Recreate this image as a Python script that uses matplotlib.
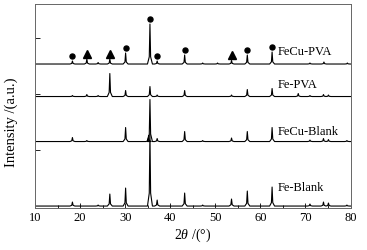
import matplotlib
matplotlib.use('Agg')
import matplotlib.pyplot as plt
import numpy as np

plt.rcParams['font.family'] = ['Liberation Serif', 'DejaVu Serif']
plt.rcParams['mathtext.fontset'] = 'custom'
plt.rcParams['mathtext.rm'] = 'Liberation Serif'
plt.rcParams['mathtext.it'] = 'Liberation Serif:italic'

# peak positions (2theta) and heights (arb. units)
names = ['Fe-Blank', 'FeCu-Blank', 'Fe-PVA', 'FeCu-PVA']

fe_blank_pos = [18.3, 24.0, 26.6, 30.1, 35.5, 37.1, 43.2, 47.2, 53.6, 57.1, 62.6, 71.0, 74.0, 75.1, 79.2]
fe_blank_h = [4, 1, 12, 18, 72, 6, 13, 1, 7, 15, 19, 2, 4, 3, 1]

fecu_blank_pos = [18.3, 21.5, 30.1, 35.2, 35.5, 37.1, 43.2, 47.2, 53.6, 57.1, 62.6, 71.0, 74.0, 75.1, 79.2]
fecu_blank_h = [4, 1, 14, 6, 42, 3, 10, 1, 3.5, 10, 14, 1.5, 3, 2, 1]

fe_pva_pos = [18.3, 21.5, 24.0, 26.6, 30.1, 35.5, 37.1, 43.2, 53.6, 57.1, 62.6, 68.4, 71.0, 74.0, 75.1]
fe_pva_h = [1, 2, 1, 23, 6, 10, 1.5, 6, 1.5, 7, 8, 3, 1, 2, 1.5]

fecu_pva_pos = [18.3, 21.5, 24.0, 26.6, 30.1, 35.5, 37.1, 43.2, 47.2, 50.5, 53.6, 57.1, 62.6, 71.0, 74.1, 79.3]
fecu_pva_h = [3, 5, 1.5, 5, 11, 40, 3, 9, 1, 1, 3.5, 9, 12, 1, 2, 1]

# phase markers on the FeCu-PVA pattern
circle_pos = [18.3, 30.1, 35.5, 37.1, 43.2, 57.1, 62.6]
triangle_pos = [21.5, 26.6, 53.6]

positions = [fe_blank_pos, fecu_blank_pos, fe_pva_pos, fecu_pva_pos]
heights = [fe_blank_h, fecu_blank_h, fe_pva_h, fecu_pva_h]
offsets = [1.7, 66.2, 111.2, 143.7]
label_y = [19.4, 76.0, 122.7, 156.0]


def pattern(pos, h, base):
    # sharp peak with a small broadened foot
    xs = [10]
    ys = [base]
    for p, v in zip(pos, h):
        xs += [p - 0.55, p - 0.15, p, p + 0.15, p + 0.55]
        ys += [base, base + 0.18 * v, base + v, base + 0.18 * v, base]
    xs.append(80)
    ys.append(base)
    return xs, ys


fig = plt.figure(figsize=(3.67, 2.5), dpi=100)
ax = fig.add_axes([0.0954, 0.169, 0.8597, 0.815])

for name, pos, h, off, ly in zip(names, positions, heights, offsets, label_y):
    xs, ys = pattern(pos, h, off)
    ax.plot(xs, ys, color='black', lw=0.8)
    ax.text(63.9, ly, name, fontsize=9, va='center', ha='left')

top = dict(zip(fecu_pva_pos, fecu_pva_h))
ax.plot(circle_pos, [offsets[3] + top[p] + 5 for p in circle_pos], 'o',
        color='black', ms=3.6, clip_on=False)
ax.plot(triangle_pos, [offsets[3] + top[p] + 5.5 for p in triangle_pos], '^',
        color='black', ms=6, clip_on=False)

ax.set_xlim(10, 80)
ax.set_ylim(0, 203.7)
ax.set_xticks(np.arange(10, 81, 10))
ax.set_xticks(np.arange(15, 80, 10), minor=True)
ax.set_yticks([57.7, 113.7, 169.7])
ax.set_yticklabels([])
ax.tick_params(axis='both', which='major', direction='in', length=3.5, width=0.6, labelsize=9, pad=3)
ax.tick_params(axis='x', which='minor', direction='in', length=2, width=0.6)
for s in ax.spines.values():
    s.set_color('#666666')
    s.set_linewidth(0.7)

ax.set_xlabel(r'$\mathit{2\theta}$ /(°)', fontsize=10, labelpad=2)
ax.set_ylabel('Intensity /(a.u.)', fontsize=10.5)
ax.yaxis.set_label_coords(-0.055, 0.42)

fig.savefig('out.png', dpi=100)
